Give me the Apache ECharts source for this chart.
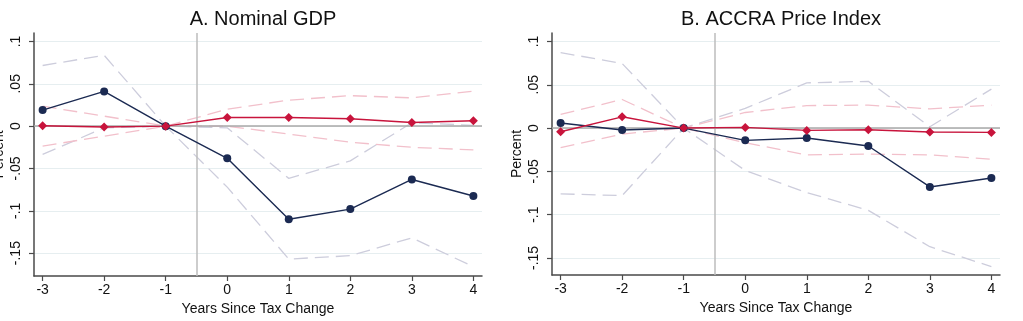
<!DOCTYPE html>
<html>
<head>
<meta charset="utf-8">
<script src="https://cdn.jsdelivr.net/npm/echarts@6/dist/echarts.min.js"></script>
<style>
html,body{margin:0;padding:0;background:#fff;}
#chart{width:1023px;height:321px;}
</style>
</head>
<body>
<div id="chart"></div>
<script>
// ---- data ----
const years = [-3, -2, -1, 0, 1, 2, 3, 4];
const xTicks = [-3, -2, -1, 0, 1, 2, 3, 4];
const yTicks = [-0.15, -0.1, -0.05, 0, 0.05, 0.1];
const yTickLabels = ['-.15', '-.1', '-.05', '0', '.05', '.1'];
const titles = ['A. Nominal GDP', 'B. ACCRA Price Index'];

// Panel A: Nominal GDP
const gdpEst      = [0.019, 0.041, 0, -0.038, -0.110, -0.098, -0.063, -0.0825];
const gdpUpper    = [0.0716, 0.0837, 0, -0.002, -0.0617, -0.041, 0.004, 0.001];
const gdpLower    = [-0.0334, -0.002, 0, -0.072, -0.157, -0.153, -0.132, -0.166];
const gdpRedEst   = [0.0004, -0.001, 0, 0.0102, 0.0102, 0.0087, 0.0043, 0.0063];
const gdpRedUpper = [0.0236, 0.0118, 0, 0.020, 0.0307, 0.036, 0.0334, 0.0413];
const gdpRedLower = [-0.0236, -0.0118, 0, 0.0, -0.0094, -0.019, -0.025, -0.028];

// Panel B: ACCRA Price Index
const accraEst      = [0.0058, -0.0023, 0, -0.0142, -0.0115, -0.0207, -0.068, -0.0576];
const accraUpper    = [0.0872, 0.0745, 0, 0.0227, 0.0522, 0.054, 0.0015, 0.045];
const accraLower    = [-0.076, -0.078, 0, -0.049, -0.0745, -0.095, -0.137, -0.16];
const accraRedEst   = [-0.0042, 0.013, 0, 0.0008, -0.0027, -0.0019, -0.0046, -0.005];
const accraRedUpper = [0.0158, 0.033, 0, 0.018, 0.026, 0.0265, 0.0222, 0.0265];
const accraRedLower = [-0.0227, -0.0069, 0, -0.0169, -0.031, -0.030, -0.031, -0.036];

// ---- styles ----
const NAVY = '#1b2a52';
const RED = '#c8143c';
const NAVY_CI = '#cdcddc';
const RED_CI = '#f2c0cb';
const AXIS = '#4a4a4a';
const FONT = 'Liberation Sans, Arial, sans-serif';

const zip = arr => years.map((x, i) => [x, arr[i]]);
const labelMap = {};
yTicks.forEach((v, i) => { labelMap[v.toFixed(2)] = yTickLabels[i]; });

const chart = echarts.init(document.getElementById('chart'), null, {renderer: 'canvas'});

function xAxis(gi) {
  return {
    type: 'value', gridIndex: gi, min: -3.14, max: 4.14,
    name: 'Years Since Tax Change', nameLocation: 'middle', nameGap: 22,
    nameTextStyle: {fontFamily: FONT, fontSize: 14, color: '#111'},
    axisLine: {show: true, onZero: false, lineStyle: {color: AXIS, width: 1.5}},
    axisTick: {show: true, length: 5, customValues: xTicks, lineStyle: {color: AXIS, width: 1.2}},
    axisLabel: {customValues: xTicks, margin: 7, fontFamily: FONT, fontSize: 14, color: '#111',
      formatter: v => String(v)},
    splitLine: {show: false}
  };
}
function yAxis(gi, min, max) {
  return {
    type: 'value', gridIndex: gi, min: min, max: max,
    name: 'Percent', nameLocation: 'middle', nameGap: 28,
    nameTextStyle: {fontFamily: FONT, fontSize: 14, color: '#111'},
    axisLine: {show: true, onZero: false, lineStyle: {color: AXIS, width: 1.5}},
    axisTick: {show: true, length: 5, customValues: yTicks, lineStyle: {color: AXIS, width: 1.2}},
    axisLabel: {customValues: yTicks, rotate: 90, margin: 11, fontFamily: FONT, fontSize: 14, color: '#111',
      formatter: v => labelMap[Number(v).toFixed(2)] !== undefined ? labelMap[Number(v).toFixed(2)] : String(v)},
    splitLine: {show: true, lineStyle: {color: '#e6eef0', width: 1.2}}
  };
}

function ciSeries(gi, data, color) {
  return {
    type: 'line', xAxisIndex: gi, yAxisIndex: gi, data: zip(data),
    symbol: 'none', silent: true, z: 2,
    lineStyle: {color: color, width: 1.3, type: [14, 7]}
  };
}
function estSeries(gi, data, color, symbol) {
  return {
    type: 'line', xAxisIndex: gi, yAxisIndex: gi, data: zip(data),
    symbol: symbol, symbolSize: symbol === 'circle' ? 8 : 9, z: 5,
    itemStyle: {color: color}, lineStyle: {color: color, width: 1.4}
  };
}
function refSeries(gi) {
  return {
    type: 'line', xAxisIndex: gi, yAxisIndex: gi, data: [], silent: true, z: 1,
    markLine: {
      silent: true, symbol: 'none', label: {show: false}, animation: false,
      data: [
        {xAxis: -0.5, lineStyle: {color: '#bdbdbd', width: 1.5, type: 'solid'}},
        {yAxis: 0, lineStyle: {color: '#a8a8a8', width: 1.5, type: 'solid'}}
      ]
    }
  };
}

const option = {
  animation: false,
  backgroundColor: '#ffffff',
  title: [
    {text: titles[0], left: 258, top: 4, textAlign: 'center',
     textStyle: {fontFamily: FONT, fontSize: 20, fontWeight: 'normal', color: '#111'}},
    {text: titles[1], left: 776, top: 4, textAlign: 'center',
     textStyle: {fontFamily: FONT, fontSize: 20, fontWeight: 'normal', color: '#111'}}
  ],
  grid: [
    {left: 34, right: 541, top: 33, bottom: 45, containLabel: false, outerBoundsMode: 'none'},
    {left: 552, right: 23, top: 33, bottom: 46, containLabel: false, outerBoundsMode: 'none'}
  ],
  xAxis: [xAxis(0), xAxis(1)],
  yAxis: [yAxis(0, -0.177, 0.11), yAxis(1, -0.1697, 0.1098)],
  series: [
    refSeries(0),
    ciSeries(0, gdpUpper, NAVY_CI),
    ciSeries(0, gdpLower, NAVY_CI),
    ciSeries(0, gdpRedUpper, RED_CI),
    ciSeries(0, gdpRedLower, RED_CI),
    estSeries(0, gdpEst, NAVY, 'circle'),
    estSeries(0, gdpRedEst, RED, 'diamond'),
    refSeries(1),
    ciSeries(1, accraUpper, NAVY_CI),
    ciSeries(1, accraLower, NAVY_CI),
    ciSeries(1, accraRedUpper, RED_CI),
    ciSeries(1, accraRedLower, RED_CI),
    estSeries(1, accraEst, NAVY, 'circle'),
    estSeries(1, accraRedEst, RED, 'diamond')
  ]
};
chart.setOption(option);
</script>
</body>
</html>
